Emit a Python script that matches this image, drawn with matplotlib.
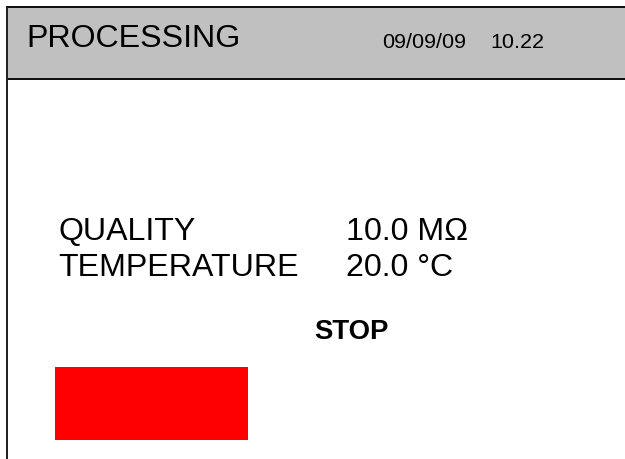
#!/usr/bin/env python3
"""
측정 화면 목업 재현
matplotlib으로 장치 화면(PROCESSING) 그리기
"""

import matplotlib
matplotlib.use("Agg")
import matplotlib.pyplot as plt
from matplotlib.patches import Rectangle

# 화면 데이터
title = "PROCESSING"
date_str = "09/09/09"
time_str = "10.22"
labels = ["QUALITY", "TEMPERATURE"]
values = ["10.0 MΩ", "20.0 °C"]
status = "STOP"

W, H = 625, 459
PX = 0.72  # px -> pt (dpi 100)

plt.rcParams['font.family'] = ['Liberation Sans', 'DejaVu Sans']

fig = plt.figure(figsize=(W / 100, H / 100), dpi=100)
ax = fig.add_axes([0, 0, 1, 1])
ax.set_xlim(0, W)
ax.set_ylim(H, 0)
ax.axis('off')

# 헤더 영역
ax.add_patch(Rectangle((7, 7), W, 72, facecolor='#c0c0c0',
                       edgecolor='#111111', linewidth=2 * PX))
# 왼쪽 세로선
ax.plot([7, 7], [7, H], color='#222222', linewidth=2 * PX, solid_capstyle='butt')

ax.text(26.5, 47, title, fontsize=32.2 * PX, va='baseline', ha='left')
ax.text(382, 48, date_str, fontsize=21.5 * PX, va='baseline', ha='left')
ax.text(490, 48, time_str, fontsize=21.5 * PX, va='baseline', ha='left')

# 측정값
baselines = [240, 276]
for lab, val, y in zip(labels, values, baselines):
    ax.text(58.5, y, lab, fontsize=32.2 * PX, va='baseline', ha='left')
    ax.text(345.5, y, val, fontsize=32.2 * PX, va='baseline', ha='left')

ax.text(351.5, 339, status, fontsize=27.5 * PX, fontweight='bold',
        va='baseline', ha='center')

# 상태 표시 (빨간 박스)
ax.add_patch(Rectangle((55, 367), 193, 73, facecolor='#ff0000', edgecolor='none'))

fig.savefig('out.png', dpi=100)
plt.close(fig)
